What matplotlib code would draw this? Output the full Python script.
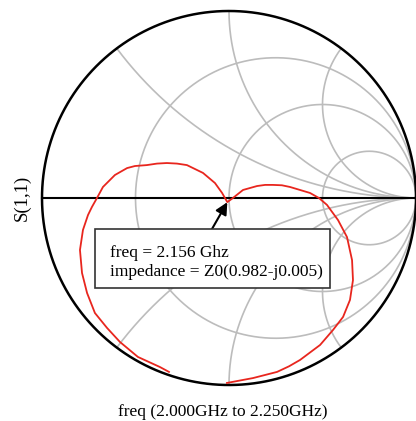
import numpy as np
import matplotlib
matplotlib.use("Agg")
import matplotlib.pyplot as plt
from matplotlib.patches import Rectangle

# ------------------------------------------------------------
# Data
# ------------------------------------------------------------
# Smith chart grid values
r_vals = [1 / 3, 1, 3]
x_vals = [0.5, 1, 2]

# S(1,1) trace, reflection coefficient (real, imag)
s11_re = [-0.321, -0.369, -0.487, -0.583, -0.652, -0.717, -0.759, -0.786,
          -0.797, -0.781, -0.754, -0.733, -0.706, -0.674, -0.610, -0.545,
          -0.503, -0.439, -0.385, -0.332, -0.278, -0.225, -0.139, -0.075,
          -0.037, -0.009, 0.021, 0.075, 0.150, 0.193, 0.235, 0.283, 0.326,
          0.433, 0.481, 0.524, 0.583, 0.631, 0.658, 0.663, 0.647, 0.610,
          0.556, 0.487, 0.380, 0.321, 0.257, 0.128, -0.011]
s11_im = [-0.930, -0.904, -0.850, -0.770, -0.695, -0.615, -0.508, -0.401,
          -0.278, -0.171, -0.091, -0.048, 0.000, 0.059, 0.123, 0.160,
          0.171, 0.176, 0.184, 0.187, 0.184, 0.176, 0.134, 0.080,
          0.027, -0.022, 0.000, 0.043, 0.064, 0.070, 0.070, 0.068, 0.059,
          0.027, 0.000, -0.037, -0.118, -0.209, -0.332, -0.439, -0.545, -0.636,
          -0.706, -0.786, -0.866, -0.900, -0.930, -0.963, -0.989]

# marker
marker_freq = "2.156 Ghz"
marker_z = (0.982, -0.005)

xlabel = "freq (2.000GHz to 2.250GHz)"
ylabel = "S(1,1)"

# ------------------------------------------------------------
# Figure
# ------------------------------------------------------------
plt.rcParams["font.family"] = ["Liberation Serif", "DejaVu Serif"]

fig = plt.figure(figsize=(4.16, 4.21), dpi=100)
ax = fig.add_axes([0, 0, 1, 1])
ax.set_xlim(-1.2246, 1.0)
ax.set_ylim(-1.1925, 1.0588)
ax.axis("off")

grid_col = "#bcbcbc"

# constant resistance circles
t = np.linspace(-np.pi / 2 + 1e-4, np.pi / 2 - 1e-4, 800)
xx = np.tan(t)
for r in r_vals:
    z = r + 1j * xx
    g = (z - 1) / (z + 1)
    ax.plot(g.real, g.imag, color=grid_col, lw=1.2, zorder=1)

# constant reactance arcs
rr = np.tan(np.linspace(0, np.pi / 2 - 1e-4, 800))
for x in x_vals:
    for s in (1, -1):
        z = rr + 1j * s * x
        g = (z - 1) / (z + 1)
        ax.plot(g.real, g.imag, color=grid_col, lw=1.2, zorder=1)

# outer circle and real axis
th = np.linspace(0, 2 * np.pi, 600)
ax.plot(np.cos(th), np.sin(th), color="black", lw=1.8, zorder=3, clip_on=False)
ax.plot([-1, 1], [0, 0], color="black", lw=1.5, zorder=3)

# S11 trace
ax.plot(s11_re, s11_im, color="#e8261e", lw=1.3, zorder=4)

# marker annotation
zm = complex(*marker_z)
gm = (zm - 1) / (zm + 1)
box = Rectangle((0.2284, 0.3159), 0.565, 0.1401, transform=fig.transFigure,
                facecolor="white", edgecolor="#333333", lw=1.2, zorder=5)
fig.patches.append(box)
fig.text(0.2644, 0.3895, "freq = " + marker_freq, fontsize=12.5,
         va="baseline", ha="left", zorder=6)
fig.text(0.2644, 0.3444,
         "impedance = Z0(%.3f-j%.3f)" % (marker_z[0], -marker_z[1]),
         fontsize=12.5, va="baseline", ha="left", zorder=6)
ax.annotate("", xy=(gm.real, gm.imag - 0.02), xycoords="data",
            xytext=(0.5096, 0.4561), textcoords="figure fraction",
            arrowprops=dict(arrowstyle="-|>", color="black", lw=1.5,
                            mutation_scale=18, shrinkA=0, shrinkB=0),
            zorder=6)

# axis labels
fig.text(0.536, 0.0119, xlabel, fontsize=12.5, ha="center", va="baseline")
fig.text(0.053, 0.5297, ylabel, fontsize=13.5, ha="center", va="center",
         rotation=90)

fig.savefig("out.png", dpi=100)
